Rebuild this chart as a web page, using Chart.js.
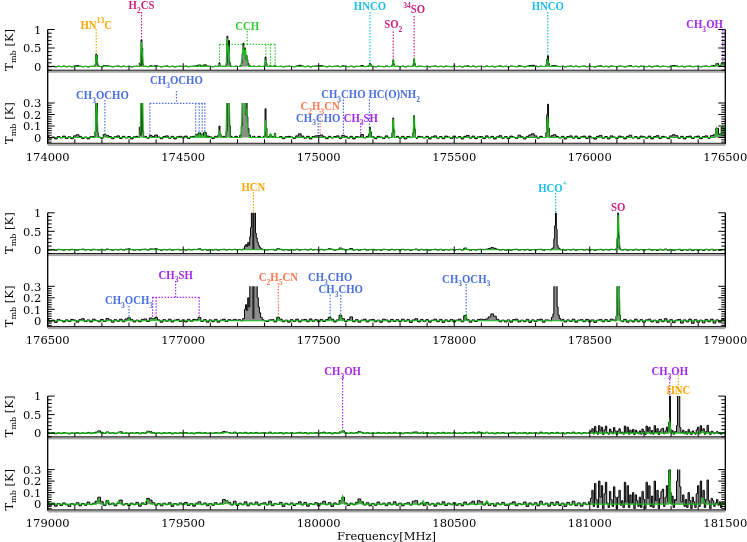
<!DOCTYPE html>
<html>
<head>
<meta charset="utf-8">
<script src="https://cdn.jsdelivr.net/npm/chart.js@4.4.1/dist/chart.umd.min.js"></script>
<style>
html, body { margin: 0; padding: 0; background: #fff; overflow: hidden; }
#wrap { position: relative; width: 747px; height: 542px; }
#wrap canvas { position: absolute; left: 0; top: 0; }
</style>
</head>
<body>
<div id="wrap"></div>
<script>
// ---- frequency ranges (MHz) of the three strips ----
const ranges = [[174000, 176500], [176500, 179000], [179000, 181500]];
const xMajorTicks = [[174000, 174500, 175000, 175500, 176000, 176500],
                     [176500, 177000, 177500, 178000, 178500, 179000],
                     [179000, 179500, 180000, 180500, 181000, 181500]];
const yTicksTop = [0, 0.5, 1];
const yTickLabelsTop = ['0', '0.5', '1'];
const yTicksBot = [0, 0.1, 0.2, 0.3];
const yTickLabelsBot = ['0', '0.1', '0.2', '0.3'];

// ---- observed spectrum, strip 1: baseline in mK every 10 MHz from 174000 ----
const noise1 = [
  10,-6,4,-12,8,-4,12,-8,6,-10,
  14,24,10,-8,4,-12,6,8,10,4,
  -6,26,18,8,-10,6,14,-8,10,-4,
  8,-12,6,10,4,0,10,-6,18,8,
  22,4,-10,8,14,-6,10,-12,6,10,
  -4,12,-8,6,10,24,40,20,44,12,
  6,-8,10,0,0,0,0,0,0,0,
  0,0,0,0,0,0,0,0,0,0,
  0,0,0,0,0,0,8,-10,6,10,
  4,-8,14,32,12,-6,10,-12,8,14,
  16,22,6,-10,10,-4,8,14,-8,18,
  10,-6,10,-12,8,4,26,-4,10,14,
  6,-10,10,4,-8,14,-4,8,0,10,
  -6,10,-12,8,4,0,-8,10,6,-4,
  10,-12,6,14,-6,8,-10,12,4,-8,
  12,-4,8,-12,10,18,-6,12,-10,6,
  8,-8,14,-4,10,-12,6,16,-6,8,
  -10,12,4,-8,20,6,-12,10,22,32,
  14,-6,10,0,0,0,16,24,10,-4,
  10,-12,8,14,-6,12,-10,6,12,-8,
  12,-4,-14,10,18,-6,8,-12,14,4,
  -8,12,6,-12,10,20,-4,8,-10,12,
  6,-6,12,-12,8,16,-8,10,4,-10,
  14,24,16,-6,10,-12,8,12,-8,6,
  12,-10,8,14,-6,16,24,80,30,90,
  60
];
// line profiles, strip 1: [MHz, K]
const lines1 = [
  [[174172,0],[174176,0.05],[174179,0.33],[174182,0.3],[174185,0.04],[174189,0]],
  [[174336,0],[174340,0.09],[174343,0.02],[174346,0.72],[174349,0.5],[174352,0.05],[174356,0]],
  [[174625,0],[174630,0.02],[174634,0.1],[174637,0.03],[174642,0],[174650,0.01],[174656,0],
   [174660,0.05],[174663,0.82],[174666,0.55],[174669,0.7],[174672,0.1],[174676,0.01],[174685,0],
   [174695,0.01],[174705,0],[174712,0.02],[174716,0.1],[174719,0.35],[174722,0.63],[174725,0.45],
   [174728,0.5],[174731,0.2],[174734,0.3],[174737,0.18],[174740,0.08],[174745,0.02],[174752,0],
   [174760,0.01],[174770,0],[174780,0.01],[174790,0],[174800,0.01],[174804,0.25],[174807,0.08],
   [174811,0],[174818,0.01],[174822,0.03],[174826,0],[174834,0.01],[174839,0.035],[174843,0],[174850,0]],
  [[175182,0],[175186,0.03],[175189,0.09],[175192,0.05],[175196,0]],
  [[175268,0],[175272,0.04],[175275,0.17],[175278,0.06],[175282,0]],
  [[175345,0],[175349,0.04],[175352,0.19],[175355,0.07],[175359,0]],
  [[175835,0],[175840,0.04],[175843,0.2],[175846,0.29],[175849,0.08],[175853,0]]
];
// model, strip 1: [MHz, K]
const model1 = [
  [174000,0],[174172,0],[174176,0.04],[174179,0.3],[174182,0.27],[174186,0],
  [174205,0],[174212,0.02],[174220,0],
  [174338,0],[174342,0.08],[174346,0.66],[174349,0.4],[174353,0],
  [174542,0],[174546,0.02],[174550,0],[174555,0],[174559,0.03],[174563,0],[174566,0],
  [174570,0.03],[174574,0],[174577,0],[174580,0.035],[174584,0],
  [174628,0],[174634,0.05],[174640,0],
  [174658,0],[174663,0.77],[174666,0.4],[174669,0.5],[174673,0],
  [174714,0],[174719,0.3],[174722,0.5],[174725,0.35],[174728,0.45],[174731,0.2],[174734,0.25],[174738,0.05],[174744,0],
  [174800,0],[174804,0.15],[174808,0],
  [174818,0],[174822,0.03],[174826,0],[174835,0],[174839,0.03],[174843,0],
  [175184,0],[175189,0.07],[175194,0],
  [175270,0],[175275,0.16],[175280,0],
  [175347,0],[175352,0.19],[175357,0],
  [175838,0],[175845,0.18],[175851,0],
  [176462,0],[176468,0.08],[176474,0.01],[176485,0.02],[176491,0.1],[176500,0.05]
];

// ---- strip 2: baseline in mK every 10 MHz from 176500 ----
const noise2 = [
  10,-8,6,-14,12,4,-10,8,-6,12,
  6,-12,10,18,-6,8,-10,14,4,-8,
  12,-6,20,8,-12,10,-4,14,-8,16,
  26,10,-10,6,-8,12,16,-6,24,20,
  28,8,-12,10,-4,14,-10,6,12,-6,
  8,-10,12,-4,12,10,28,-6,10,-12,
  8,-8,12,-12,6,14,-6,10,4,12,
  6,10,0,0,0,0,0,0,0,0,
  0,-6,8,10,-10,30,14,-8,6,-12,
  10,-6,14,-10,8,12,-8,16,-4,10,
  -8,12,-6,10,30,14,-10,8,48,18,
  -6,12,34,-8,10,-12,6,14,-10,8,
  12,-8,6,-12,14,8,-10,12,-6,10,
  -8,14,-4,10,-14,8,18,-10,12,-6,
  10,-12,6,14,-8,12,-14,8,-6,12,
  -10,6,14,-8,45,10,-12,8,-6,12,
  14,10,16,34,60,40,12,-8,6,-10,
  8,-12,10,14,-10,6,-8,12,-14,8,
  -6,10,14,-12,8,6,0,0,0,0,
  12,-10,8,-6,14,-12,6,10,-8,12,
  -10,8,-14,6,12,-8,10,-6,14,8,
  0,10,-8,12,-12,6,-10,14,-8,10,
  -12,8,14,-10,6,-16,12,-8,18,-12,
  10,-16,6,12,-20,8,-10,14,-22,10,
  -12,6,-18,12,-8,14,-20,8,-12,10,
  6
];
const lines2 = [
  [[177215,0],[177224,0.02],[177228,0.1],[177232,0.14],[177236,0.09],[177240,0.2],[177244,0.12],
   [177247,0.35],[177250,0.6],[177253,1.5],[177256,1.4],[177259,0.02],[177262,1.5],[177265,1.2],
   [177268,0.45],[177271,0.32],[177275,0.2],[177279,0.12],[177283,0.07],[177288,0.03],[177295,0.01],[177300,0]],
  [[178355,0],[178362,0.03],[178366,0.06],[178369,0.3],[178372,0.65],[178375,1.0],[178378,0.55],
   [178381,0.12],[178385,0.05],[178390,0.02],[178396,0]],
  [[178594,0],[178599,0.04],[178602,0.3],[178605,1.05],[178608,0.35],[178611,0.05],[178616,0]]
];
const model2 = [
  [176500,0],[176795,0],[176800,0.02],[176805,0],
  [176882,0],[176887,0.015],[176892,0],[176895,0],[176900,0.015],[176905,0],
  [177054,0],[177059,0.02],[177064,0],
  [177346,0],[177351,0.025],[177356,0],
  [177537,0],[177542,0.02],[177547,0],
  [177576,0],[177581,0.04],[177586,0],
  [178039,0],[178044,0.05],[178049,0],
  [178598,0],[178602,0.4],[178605,0.95],[178608,0.4],[178612,0],
  [179000,0]
];

// ---- strip 3: baseline in mK every 10 MHz from 179000, then every 5 MHz from 181000 ----
const noise3 = [
  15,-10,8,-18,5,-12,10,-6,-20,4,
  -8,12,-15,6,-10,18,-5,8,25,60,
  20,-12,30,-5,8,-15,10,35,-8,5,
  -12,8,-6,15,-18,10,-4,50,35,12,
  -10,6,-15,8,-5,12,-20,5,-8,10,
  -6,15,-12,4,-18,8,20,-5,10,-14,
  6,-10,12,-4,8,40,30,15,-8,25,
  -12,8,-6,20,-15,10,-5,18,-10,6,
  12,-8,25,-14,6,-4,15,-20,8,-6,
  10,-12,5,20,-8,15,-18,6,-5,12,
  -15,8,25,-6,12,-20,10,-4,30,60,
  10,-12,8,-6,15,45,20,-8,12,-15,
  6,-10,18,-5,8,-14,12,-6,20,-10,
  8,-15,5,12,-8,25,30,-6,10,-12,
  15,-8,6,-18,10,-5,20,-12,8,-6,
  12,-10,5,-15,18,-6,10,25,-5,30,
  20,-8,12,-12,6,-18,10,-6,15,-10,
  -10,8,20,-14,6,-5,18,-20,10,-8,
  12,-15,25,-6,8,-18,15,-10,20,-12,
  8,-20,15,-8,25,-14,10,-18,12,-5
];
const burst3 = [
  20,50,120,-20,180,40,-30,200,60,160,
  -40,90,190,10,-30,110,40,-20,150,60,
  -40,60,120,-10,30,-30,190,20,160,-30,
  80,10,100,-40,80,30,-20,60,-30,110,
  40,-40,190,50,160,-20,70,-30,200,30,
  120,-40,50,110,130,-20,60,160,20,0,
  0,70,-30,40,10,0,0,0,20,80,
  -20,40,-30,100,30,-40,60,20,-30,90,
  160,-20,200,60,120,-30,40,210,30,-40,
  50,30,-20,10,40,-10,20,-30,15,5,
  10
];
const lines3 = [
  [[181290,0.02],[181293,0.3],[181296,1.3],[181299,0.1],[181302,0]],
  [[181318,0.03],[181322,0.2],[181325,1.2],[181330,1.3],[181334,0.15],[181338,0.02]]
];
const model3 = [
  [179000,0],[179004,0.02],[179010,0],
  [179180,0],[179188,0.04],[179196,0],
  [179215,0],[179222,0.03],[179230,0],
  [179255,0],[179262,0.03],[179270,0],
  [179358,0],[179366,0.04],[179374,0.02],[179382,0],
  [179650,0],[179660,0.03],[179670,0],
  [180080,0],[180088,0.07],[180096,0],
  [180145,0],[180152,0.03],[180160,0],
  [180378,0],[180385,0.03],[180392,0],
  [180612,0],[180620,0.03],[180628,0],
  [181290,0],[181295,0.32],[181300,0],
  [181410,0],[181418,0.05],[181426,0],
  [181500,0]
];

// ---- line identifications (text, colour, rest frequency / bracket members) ----
const COL = { org: '#ffa500', mag: '#d0207f', grn: '#33cc33', sky: '#1ebdf0',
              pur: '#a526f0', blu: '#4a6fe3', cor: '#ff7a50' };
// layout: p = panel (0 upper, 1 lower), ty = text centre, ly = dotted line top, by = bracket (px from strip top)
const ids1 = [
  { t: 'HN^{13}C', c: 'org', f: 174179, p: 0, ty: -5, ly: -0.5 },
  { t: 'H_2CS', c: 'mag', f: 174346, p: 0, ty: -24.8, ly: -17.5 },
  { t: 'CCH', c: 'grn', f: [174634, 174664, 174723, 174805, 174822, 174839], tf: 174736, p: 0, ty: -3.7, ly: 1.5, by: 14.8 },
  { t: 'HNCO', c: 'sky', f: 175189, p: 0, ty: -24, ly: -17.5 },
  { t: 'SO_2', c: 'mag', f: 175275, p: 0, ty: -5.5, ly: 2 },
  { t: '^{34}SO', c: 'mag', f: 175352, p: 0, ty: -20.5, ly: -13.5 },
  { t: 'HNCO', c: 'sky', f: 175845, p: 0, ty: -24, ly: -17.5 },
  { t: 'CH_3OH', c: 'pur', f: 176491, p: 0, ty: -5.5, ly: 0.5, align: 'right', dx: 0 },
  { t: 'CH_3OCHO', c: 'blu', f: 174211, p: 1, ty: 65.2, ly: 70.5, dx: -2.5 },
  { t: 'CH_3OCHO', c: 'blu', f: [174377, 174546, 174559, 174570, 174580], tf: 174475, p: 1, ty: 50.5, ly: 61.5, by: 73.8 },
  { t: 'CH_3CHO', c: 'blu', f: 174998, p: 1, ty: 87.8, ly: 93.5 },
  { t: 'C_2H_3CN', c: 'cor', f: 175005, p: 1, ty: 76.2, ly: 81.5 },
  { t: 'CH_3CHO', c: 'blu', f: 175091, p: 1, ty: 64.5, ly: 70 },
  { t: 'HC(O)NH_2', c: 'blu', f: 175187, p: 1, ty: 64.5, ly: 70, align: 'left', dx: -1 },
  { t: 'CH_3SH', c: 'pur', f: 175155, p: 1, ty: 87.8, ly: 93.5 }
];
const ids2 = [
  { t: 'HCN', c: 'org', f: 177259, p: 0, ty: -26.1, ly: -20.8 },
  { t: 'HCO^+', c: 'sky', f: 178374, p: 0, ty: -25.5, ly: -19.8, dx: -3 },
  { t: 'SO', c: 'mag', f: 178605, p: 0, ty: -6.1, ly: null },
  { t: 'CH_3OCH_3', c: 'blu', f: 176800, p: 1, ty: 87.2, ly: 93.2 },
  { t: 'CH_3SH', c: 'pur', f: [176887, 176900, 177059], tf: 176972, p: 1, ty: 61.5, ly: 68.2, by: 84.5 },
  { t: 'C_2H_5CN', c: 'cor', f: 177351, p: 1, ty: 63.9, ly: 70.2 },
  { t: 'CH_3CHO', c: 'blu', f: 177542, p: 1, ty: 63.9, ly: 82 },
  { t: 'CH_3CHO', c: 'blu', f: 177581, p: 1, ty: 76.2, ly: 82.2 },
  { t: 'CH_3OCH_3', c: 'blu', f: 178044, p: 1, ty: 65.5, ly: 71.2 }
];
const ids3 = [
  { t: 'CH_3OH', c: 'pur', f: 180088, p: 0, ty: -25.3, ly: -20 },
  { t: 'CH_3OH', c: 'pur', f: 181295, p: 0, ty: -25.1, ly: -20 },
  { t: 'HNC', c: 'org', f: 181327, p: 0, ty: -6.6, ly: -21 }
];

// ---- page geometry ----
const W = 747, H = 542, LEFT = 47.7, RIGHT = 725.3;
const stripTop = [29.5, 212.8, 396.1];
const panelBox = [
  { top: 0, bottom: 40.7, min: -0.1, max: 1, frameTop: 0, minor: 0.1, ticks: yTicksTop, labels: yTickLabelsTop },
  { top: 73.5, bottom: 113.75, min: -0.05, max: 0.3, frameTop: 40.7, minor: 0.02, ticks: yTicksBot, labels: yTickLabelsBot }
];
const TICK_FONT = '"DejaVu Serif"';
const ID_FONT = 'bold "Liberation Serif"';

// Build observed points from the baseline grid(s) and the line profiles
function buildObs(start, step, grid, clusters, start2, step2, grid2) {
  let pts = grid.map((v, i) => ({ x: start + i * step, y: v / 1000 }));
  if (grid2) {
    pts = pts.concat(grid2.map((v, i) => ({ x: start2 + i * step2, y: v / 1000 })));
  }
  clusters.forEach(cl => {
    const lo = cl[0][0], hi = cl[cl.length - 1][0];
    pts = pts.filter(p => p.x < lo || p.x > hi);
    cl.forEach(([f, v]) => pts.push({ x: f, y: v }));
  });
  return pts.sort((a, b) => a.x - b.x);
}
const toPts = arr => arr.map(([f, v]) => ({ x: f, y: v }));

const strips = [
  { obs: buildObs(174000, 10, noise1, lines1), model: toPts(model1), ids: ids1 },
  { obs: buildObs(176500, 10, noise2, lines2), model: toPts(model2), ids: ids2 },
  { obs: buildObs(179000, 10, noise3, lines3, 181000, 5, burst3), model: toPts(model3), ids: ids3 }
];

// Text with _sub and ^sup runs
function parseRich(s) {
  const runs = [];
  let buf = '', i = 0;
  while (i < s.length) {
    const ch = s[i];
    if (ch === '_' || ch === '^') {
      if (buf) { runs.push({ t: buf, k: 0 }); buf = ''; }
      let t;
      if (s[i + 1] === '{') {
        const j = s.indexOf('}', i);
        t = s.slice(i + 2, j);
        i = j + 1;
      } else {
        t = s[i + 1];
        i += 2;
      }
      runs.push({ t, k: ch === '_' ? 1 : 2 });
    } else {
      buf += ch;
      i++;
    }
  }
  if (buf) runs.push({ t: buf, k: 0 });
  return runs;
}
function fontStr(family, size) {
  // family may carry a weight prefix, e.g. 'bold "Liberation Serif"'
  const m = family.match(/^(bold )?(.*)$/);
  return (m[1] || '') + size + 'px ' + m[2];
}
// hs = horizontal squeeze factor
function drawRich(ctx, s, x, y, size, family, align, hs) {
  hs = hs || 1;
  const runs = parseRich(s);
  let w = 0;
  runs.forEach(r => {
    ctx.font = fontStr(family, r.k ? size * 0.7 : size);
    r.w = ctx.measureText(r.t).width;
    w += r.w;
  });
  const left = align === 'right' ? x - w * hs : align === 'left' ? x : x - w * hs / 2;
  ctx.save();
  ctx.translate(left, y);
  ctx.scale(hs, 1);
  ctx.textAlign = 'left';
  ctx.textBaseline = 'alphabetic';
  let cx = 0;
  runs.forEach(r => {
    ctx.font = fontStr(family, r.k ? size * 0.7 : size);
    const dy = r.k === 1 ? size * 0.3 : r.k === 2 ? -size * 0.42 : 0;
    ctx.fillText(r.t, cx, dy);
    cx += r.w;
  });
  ctx.restore();
}

function seg(ctx, x1, y1, x2, y2) {
  ctx.beginPath();
  ctx.moveTo(x1, y1);
  ctx.lineTo(x2, y2);
  ctx.stroke();
}

// Dotted identification markers go under the spectrum, names and axes on top
const panelDecor = {
  id: 'panelDecor',
  beforeDatasetsDraw(chart, args, o) {
    const ctx = chart.ctx;
    const xs = chart.scales.x, ys = chart.scales.y;
    const top0 = stripTop[o.g];
    const y0 = ys.getPixelForValue(0);
    ctx.save();
    ctx.lineWidth = 1.2;
    ctx.setLineDash([1.5, 1.5]);
    strips[o.g].ids.filter(d => d.p === o.p).forEach(d => {
      ctx.strokeStyle = COL[d.c];
      if (Array.isArray(d.f)) {
        const by = top0 + d.by;
        const xsF = d.f.map(f => xs.getPixelForValue(f));
        seg(ctx, Math.min(...xsF), by, Math.max(...xsF), by);
        xsF.forEach(px => seg(ctx, px, by, px, y0));
        const sx = xs.getPixelForValue(d.tf);
        seg(ctx, sx, top0 + d.ly, sx, by);
      } else if (d.ly !== null) {
        const px = xs.getPixelForValue(d.f);
        seg(ctx, px, top0 + d.ly, px, y0);
      }
    });
    ctx.restore();
  },
  afterDatasetsDraw(chart, args, o) {
    const ctx = chart.ctx;
    const xs = chart.scales.x, ys = chart.scales.y, a = chart.chartArea;
    const box = panelBox[o.p];
    const top0 = stripTop[o.g];
    const frameTop = top0 + box.frameTop;
    ctx.save();

    // molecule names
    strips[o.g].ids.filter(d => d.p === o.p).forEach(d => {
      ctx.fillStyle = COL[d.c];
      const tx = xs.getPixelForValue(Array.isArray(d.f) ? d.tf : d.f) + (d.dx || 0);
      drawRich(ctx, d.t, tx, top0 + d.ty + 4.2, 12.5, ID_FONT, d.align || 'center', 0.86);
    });

    // frame
    ctx.strokeStyle = '#000';
    ctx.lineWidth = 1.3;
    seg(ctx, a.left, frameTop, a.left, a.bottom + 1);
    seg(ctx, a.right, frameTop, a.right, a.bottom + 1);
    ctx.fillStyle = '#a8a8a8';
    ctx.fillRect(a.left, a.bottom, a.right - a.left, 2.6);
    ctx.lineWidth = 1;
    ctx.strokeStyle = '#222';
    seg(ctx, a.left, a.bottom, a.right, a.bottom);

    // x ticks
    ctx.strokeStyle = '#000';
    const [x0, x1] = ranges[o.g];
    for (let f = x0; f <= x1; f += 100) {
      const px = xs.getPixelForValue(f);
      const len = (f - x0) % 500 === 0 ? 7 : 4;
      seg(ctx, px, a.bottom, px, a.bottom - len);
    }
    // y ticks (both sides, pointing inward)
    const nMin = Math.ceil(box.min / box.minor - 1e-6), nMax = Math.floor(box.max / box.minor + 1e-6);
    for (let n = nMin; n <= nMax; n++) {
      const v = n * box.minor;
      const py = ys.getPixelForValue(v);
      const major = box.ticks.some(t => Math.abs(t - v) < 1e-6);
      const len = major ? 7 : 4;
      seg(ctx, a.left, py, a.left + len, py);
      seg(ctx, a.right, py, a.right - len, py);
    }
    // y tick labels
    ctx.fillStyle = '#000';
    ctx.font = fontStr(TICK_FONT, 11.5);
    ctx.textAlign = 'right';
    ctx.textBaseline = 'alphabetic';
    box.ticks.forEach((t, i) => {
      ctx.fillText(box.labels[i], a.left - 6.5, ys.getPixelForValue(t) + 4.2);
    });
    // y title
    ctx.save();
    ctx.translate(12.8, (a.top + a.bottom) / 2);
    ctx.rotate(-Math.PI / 2);
    drawRich(ctx, 'T_{mb} [K]', 0, 0, 11.5, TICK_FONT, 'center');
    ctx.restore();
    // x tick labels under the lower panel
    if (o.p === 1) {
      ctx.font = fontStr(TICK_FONT, 11.5);
      ctx.textAlign = 'center';
      ctx.textBaseline = 'alphabetic';
      xMajorTicks[o.g].forEach(f => {
        ctx.fillText(String(f), xs.getPixelForValue(f), top0 + 131.2);
      });
      if (o.g === 2) {
        ctx.fillText('Frequency[MHz]', (a.left + a.right) / 2, 539.5);
      }
    }
    ctx.restore();
  }
};

function makePanel(g, p) {
  const canvas = document.createElement('canvas');
  canvas.width = W;
  canvas.height = H;
  document.getElementById('wrap').appendChild(canvas);
  const box = panelBox[p];
  const st = strips[g];
  return new Chart(canvas, {
    type: 'line',
    data: {
      datasets: [
        {
          data: st.model,
          borderColor: '#12c012',
          borderWidth: 1.1,
          pointRadius: 0,
          fill: false,
          tension: 0,
          clip: 0,
          order: 1
        },
        {
          data: st.obs,
          stepped: 'middle',
          borderColor: '#000',
          borderWidth: 1,
          backgroundColor: '#8c8c8c',
          fill: 'origin',
          pointRadius: 0,
          clip: 0,
          order: 2
        }
      ]
    },
    options: {
      responsive: false,
      animation: false,
      devicePixelRatio: 1,
      layout: {
        padding: {
          left: LEFT,
          right: W - RIGHT,
          top: stripTop[g] + box.top,
          bottom: H - (stripTop[g] + box.bottom)
        }
      },
      scales: {
        x: { type: 'linear', min: ranges[g][0], max: ranges[g][1], display: false },
        y: { type: 'linear', min: box.min, max: box.max, display: false }
      },
      plugins: {
        legend: { display: false },
        tooltip: { enabled: false },
        panelDecor: { g, p }
      }
    },
    plugins: [panelDecor]
  });
}

for (let g = 0; g < 3; g++) {
  makePanel(g, 0);
  makePanel(g, 1);
}
</script>
</body>
</html>
